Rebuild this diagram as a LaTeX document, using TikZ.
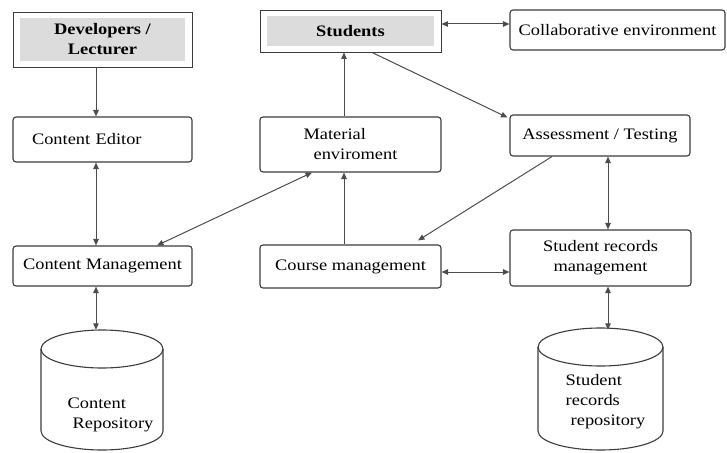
\documentclass[tikz,border=0pt]{standalone}
\usepackage{fontspec}
\setmainfont{Liberation Serif}[FakeStretch=1.15]
\usetikzlibrary{arrows.meta}
\definecolor{boxline}{HTML}{3C3C3C}
\definecolor{wire}{HTML}{4D4D4D}
\definecolor{panelgray}{HTML}{DCDCDC}

\begin{document}
\begin{tikzpicture}[x=1pt,y=-1pt,
  txt/.style={font=\fontsize{16}{20}\selectfont},
  box/.style={txt, draw=boxline, line width=1.1pt, rounded corners=3pt, fill=white,
    inner sep=0pt, align=center},
  actor/.style={box, rounded corners=0pt, line width=0.9pt,
    font=\fontsize{16}{20}\selectfont\bfseries,
    path picture={\fill[panelgray]
      ([shift={(7pt,-6pt)}]path picture bounding box.north west) rectangle
      ([shift={(-7pt,6pt)}]path picture bounding box.south east);}},
  tip/.tip={Triangle[length=6.5pt,width=5.5pt]},
  link/.style={draw=wire, line width=1pt},
  both/.style={link, tip-tip},
  one/.style={link, -tip},
  store/.style={draw=boxline, line width=1.1pt},
]
\useasboundingbox (0,0) rectangle (727,452);

% actors
\node[actor, minimum width=179pt, minimum height=55pt] (dev) at (102.5,39.5)
  {Developers /\\Lecturer};
\node[actor, minimum width=181pt, minimum height=42pt] (stu) at (350.5,31) {Students};

% processes
\node[box, minimum width=215pt, minimum height=40pt] (col) at (617.5,30)
  {Collaborative environment};
\node[box, minimum width=179pt, minimum height=45pt, text width=141pt, inner xsep=19pt,
  align=left] (ce) at (102.5,139.5) {Content Editor};
\node[box, minimum width=181pt, minimum height=55pt, align=left] (mat) at (350.5,144.5)
  {Material\\\hspace*{10pt}enviroment};
\node[box, minimum width=180pt, minimum height=41pt] (ass) at (600,135.5)
  {Assessment / Testing};
\node[box, minimum width=179pt, minimum height=40pt] (cm) at (102.5,266)
  {Content Management};
\node[box, minimum width=181pt, minimum height=43pt] (crs) at (350.5,266.5)
  {Course management};
\node[box, minimum width=181pt, minimum height=56pt] (srm) at (600.5,258)
  {Student records\\management};

% repositories
\node[inner sep=0pt, minimum width=122pt, minimum height=120pt] (crepo) at (102,390) {};
\draw[store] (41,349) -- (41,431)
  arc[start angle=180, end angle=360, x radius=61pt, y radius=19pt] -- (163,349);
\draw[store] (102,349) ellipse[x radius=61pt, y radius=19pt];
\node[txt, align=left] (crepotext) at (110.5,415) {Content\\\hspace*{5pt}Repository};

\node[inner sep=0pt, minimum width=125pt, minimum height=122pt] (srepo) at (600.5,389) {};
\draw[store] (538,347) -- (538,431)
  arc[start angle=180, end angle=360, x radius=62.5pt, y radius=19pt] -- (663,347);
\draw[store] (600.5,347) ellipse[x radius=62.5pt, y radius=19pt];
\node[txt, align=left] (srepotext) at (605.5,401.5)
  {Student\\records\\\hspace*{5pt}repository};

% connector anchors on the horizontal links
\coordinate (stuR) at ([yshift=7pt]stu.east);
\coordinate (crsR) at ([yshift=-5.5pt]crs.east);

% connectors
\draw[one]  ([xshift=-6.5pt]dev.south) -- ([xshift=-6.5pt]ce.north);
\draw[both] ([xshift=-6.5pt]ce.south) -- ([xshift=-6.5pt]cm.north);
\draw[both] ([xshift=-6.5pt]cm.south) -- ([xshift=-6pt]crepo.north);
\draw[both] ([xshift=54.5pt]cm.north) -- ([xshift=-38.5pt]mat.south);
\draw[one]  ([xshift=-6.5pt]crs.north) -- ([xshift=-6.5pt]mat.south);
\draw[one]  ([xshift=-6.5pt]mat.north) -- ([xshift=-6.5pt]stu.south);
\draw[both] (stuR) -- (col.west |- stuR);
\draw[one]  ([xshift=21.5pt]stu.south) -- ([shift={(-2pt,-3pt)}]ass.north west);
\draw[one]  ([xshift=-48pt]ass.south) -- ([shift={(67.5pt,4pt)}]crs.north);
\draw[both] ([xshift=8pt]ass.south) -- ([xshift=7.5pt]srm.north);
\draw[both] (crsR) -- (srm.west |- crsR);
\draw[both] ([xshift=7.5pt]srm.south) -- ([xshift=7.5pt, yshift=-2pt]srepo.north);
\end{tikzpicture}
\end{document}
